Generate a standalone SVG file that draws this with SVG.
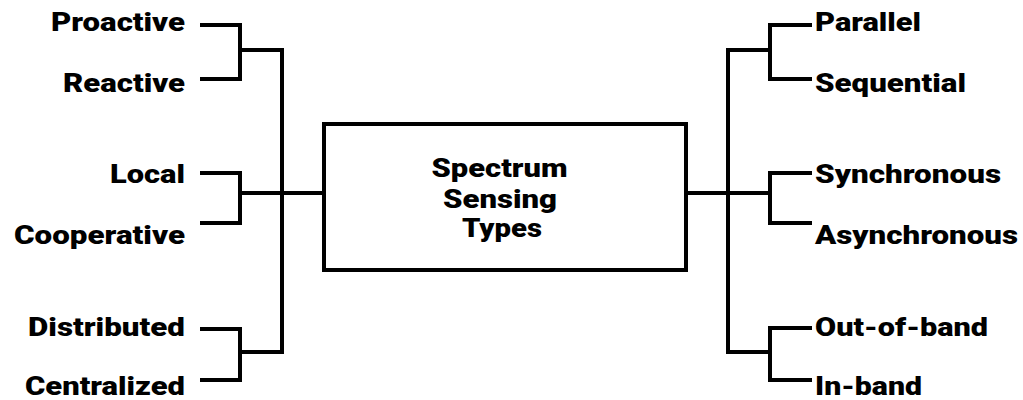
<svg xmlns="http://www.w3.org/2000/svg" width="1023" height="400" viewBox="0 0 1023 400">
<style>
.ln{fill:none;stroke:#000;stroke-width:4;stroke-linejoin:miter;stroke-linecap:square}
.t{font-family:Roboto,"Liberation Sans",Arial,sans-serif;font-weight:900;font-size:26px;fill:#000}
.c{font-family:Roboto,"Liberation Sans",Arial,sans-serif;font-weight:900;font-size:25px;fill:#000;text-anchor:middle}
</style>
<rect width="1023" height="400" fill="#fff"/>
<g id="connectors" class="ln">
<path d="M202 25 H240 V79 H202"/>
<path d="M240 50 H282 V352 H240"/>
<path d="M202 173 H240 V223 H202"/>
<path d="M240 193 H323"/>
<path d="M202 329 H240 V380 H202"/>
<path d="M810 25 H770 V79 H810"/>
<path d="M770 50 H728 V352 H770"/>
<path d="M810 173 H770 V223 H810"/>
<path d="M687 193 H770"/>
<path d="M810 328 H770 V380 H810"/>
</g>
<g id="center">
<rect x="324" y="124" width="362" height="146" fill="#fff" stroke="#000" stroke-width="4"/>
<text class="c" x="499.5" y="177.3" textLength="136" lengthAdjust="spacingAndGlyphs">Spectrum</text>
<text class="c" x="500" y="207.5" textLength="114" lengthAdjust="spacingAndGlyphs">Sensing</text>
<text class="c" x="502" y="237.3" textLength="80" lengthAdjust="spacingAndGlyphs">Types</text>
</g>
<g id="proactive"><text class="t" x="51" y="31" textLength="134" lengthAdjust="spacingAndGlyphs">Proactive</text></g>
<g id="reactive"><text class="t" x="63" y="91.5" textLength="122" lengthAdjust="spacingAndGlyphs">Reactive</text></g>
<g id="local"><text class="t" x="110" y="183" textLength="75" lengthAdjust="spacingAndGlyphs">Local</text></g>
<g id="cooperative"><text class="t" x="14" y="244" textLength="171" lengthAdjust="spacingAndGlyphs">Cooperative</text></g>
<g id="distributed"><text class="t" x="28" y="336" textLength="157" lengthAdjust="spacingAndGlyphs">Distributed</text></g>
<g id="centralized"><text class="t" x="25" y="394.5" textLength="160" lengthAdjust="spacingAndGlyphs">Centralized</text></g>
<g id="parallel"><text class="t" x="815" y="31" textLength="106" lengthAdjust="spacingAndGlyphs">Parallel</text></g>
<g id="sequential"><text class="t" x="815" y="91.5" textLength="151" lengthAdjust="spacingAndGlyphs">Sequential</text></g>
<g id="synchronous"><text class="t" x="815" y="183" textLength="186" lengthAdjust="spacingAndGlyphs">Synchronous</text></g>
<g id="asynchronous"><text class="t" x="815" y="244" textLength="203" lengthAdjust="spacingAndGlyphs">Asynchronous</text></g>
<g id="out-of-band"><text class="t" x="815" y="336" textLength="173" lengthAdjust="spacingAndGlyphs">Out-of-band</text></g>
<g id="in-band"><text class="t" x="815" y="394.5" textLength="107" lengthAdjust="spacingAndGlyphs">In-band</text></g>
</svg>
